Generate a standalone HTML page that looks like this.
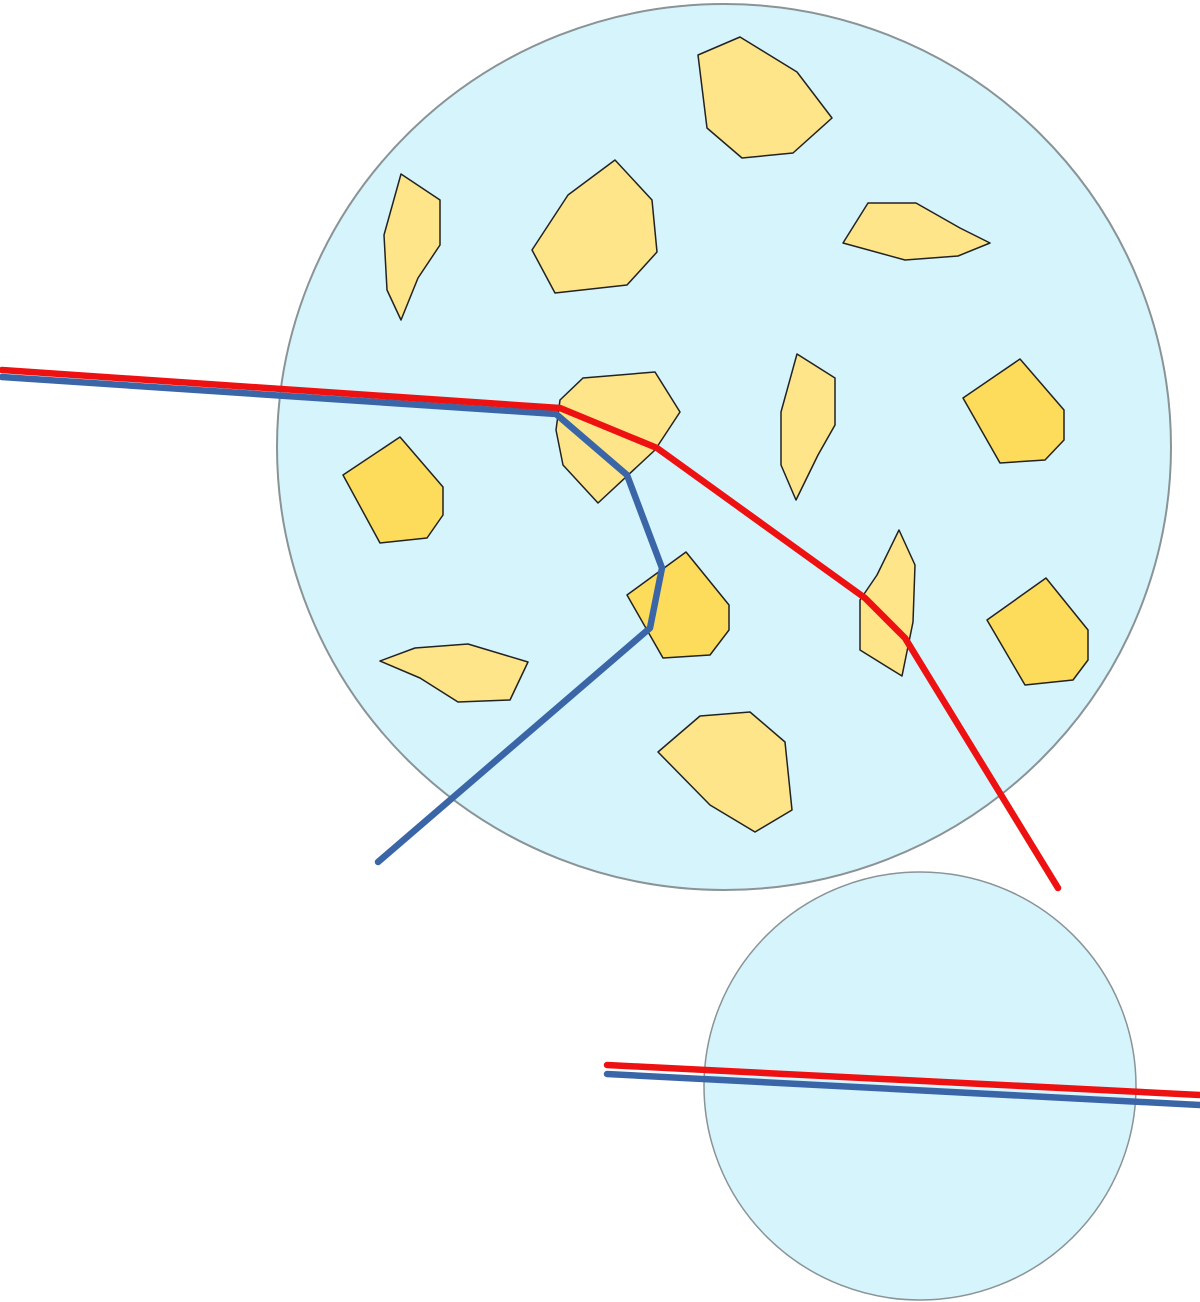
<!DOCTYPE html>
<html><head><meta charset="utf-8"><style>html,body{margin:0;padding:0;background:#fff}svg{display:block}</style></head>
<body>
<svg width="1200" height="1302" viewBox="0 0 1200 1302" xmlns="http://www.w3.org/2000/svg">
<ellipse cx="724" cy="447" rx="447" ry="443" fill="#d5f4fc" stroke="#8a9396" stroke-width="2"/>
<ellipse cx="920" cy="1086" rx="216" ry="214" fill="#d5f4fc" stroke="#8a9396" stroke-width="1.5"/>
<g stroke="#222" stroke-width="1.5" stroke-linejoin="round">
<polygon fill="#fee58a" points="698,55 740,37 797,72 832,118 793,153 742,158 707,128"/>
<polygon fill="#fee58a" points="401,174 440,200 440,245 418,278 401,320 387,290 384,235"/>
<polygon fill="#fee58a" points="532,250 568,195 615,160 652,200 657,252 627,285 555,293"/>
<polygon fill="#fee58a" points="843,243 868,203 916,203 960,228 990,243 958,256 905,260"/>
<polygon fill="#fee58a" points="560,400 583,378 655,372 680,412 655,450 598,503 563,465 556,430"/>
<polygon fill="#fee58a" points="797,354 835,378 835,425 818,455 796,500 781,465 781,412"/>
<polygon fill="#fddc5c" points="963,398 1020,359 1064,410 1064,440 1045,460 1000,463"/>
<polygon fill="#fddc5c" points="343,475 400,437 443,487 443,515 427,538 380,543"/>
<polygon fill="#fddc5c" points="627,595 686,552 729,605 729,630 710,655 663,658"/>
<polygon fill="#fee58a" points="899,530 915,565 913,622 902,676 860,650 860,600 877,575"/>
<polygon fill="#fddc5c" points="987,620 1046,578 1088,630 1088,660 1073,680 1025,685"/>
<polygon fill="#fee58a" points="380,661 415,648 468,644 528,662 510,700 458,702 420,678"/>
<polygon fill="#fee58a" points="658,752 700,716 750,712 785,742 792,810 755,832 710,805"/>
</g>
<g fill="none" stroke-width="6.5" stroke-linecap="round" stroke-linejoin="round">
<polyline stroke="#3a66a8" points="2,377 556,414 627,475 662,568 650,628 378,862"/>
<polyline stroke="#ee1111" points="2,370 560,408 657,448 865,598 905,638 1058,888"/>
<line stroke="#3a66a8" x1="607" y1="1074" x2="1200" y2="1105"/>
<line stroke="#ee1111" x1="607" y1="1065" x2="1200" y2="1095"/>
</g>
</svg>
</body></html>
